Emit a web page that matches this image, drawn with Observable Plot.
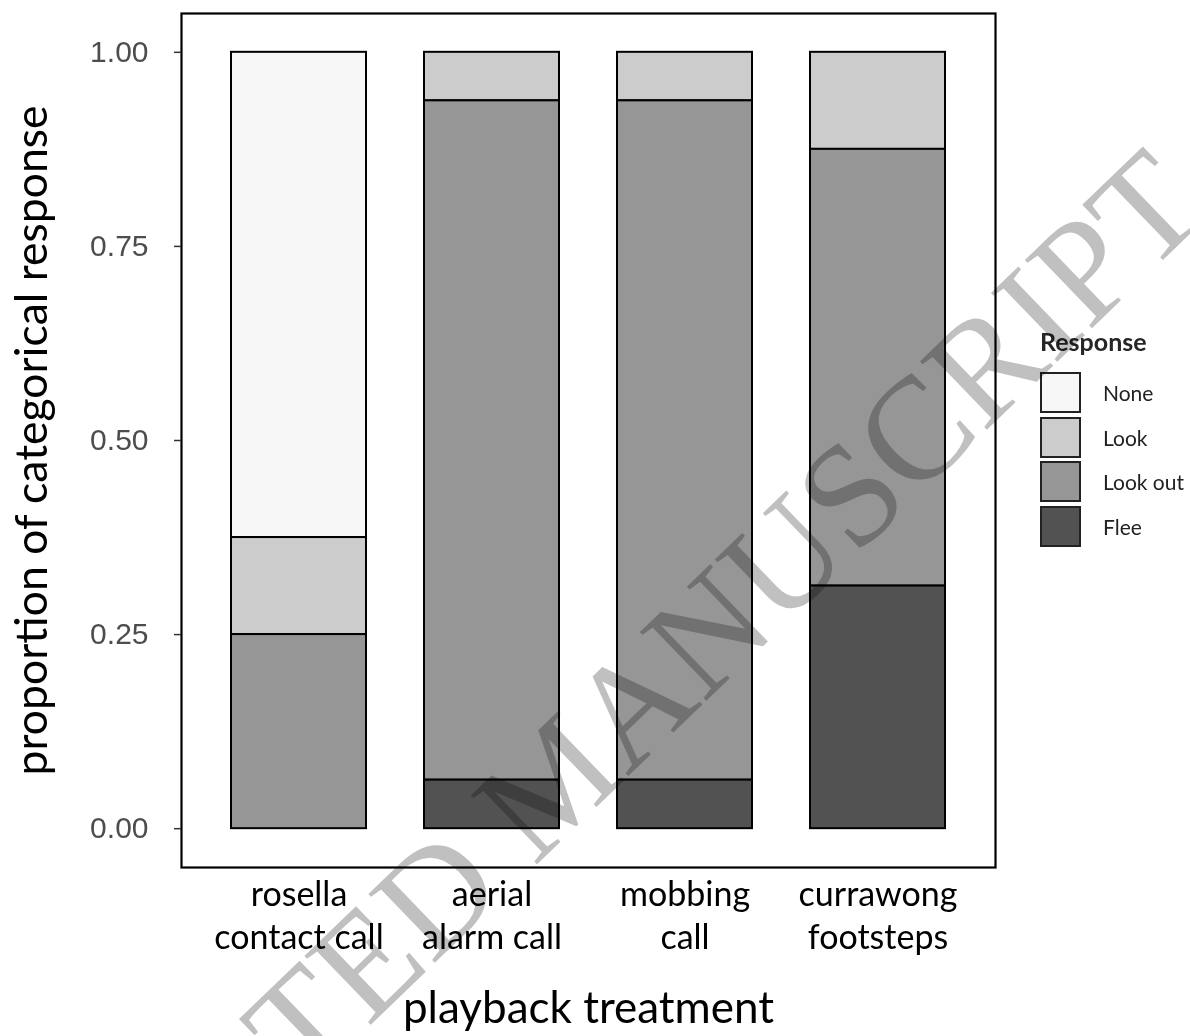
<!DOCTYPE html>
<html>
<head>
<meta charset="utf-8">
<script src="https://cdn.jsdelivr.net/npm/d3@7"></script>
<script src="https://cdn.jsdelivr.net/npm/@observablehq/plot@0.6"></script>
<style>
  html, body { margin: 0; padding: 0; background: white; }
  #wrap { position: relative; width: 1190px; height: 1036px; overflow: hidden; background: white; }
  #chart { position: absolute; left: 0; top: 0; }
  #legend { position: absolute; left: 1040px; top: 326px; font-family: Lato, sans-serif; }
  #legend .title { font-weight: bold; font-size: 25px; line-height: 30px; color: #262626; height: 44px; }
  #legend .row { display: flex; align-items: center; height: 44.7px; }
  #legend .box { width: 37px; height: 37px; border: 2px solid #222; box-sizing: content-box; }
  #legend .lab { margin-left: 22px; font-size: 21px; color: #222; }
  #watermark { position: absolute; left: 0; top: 0; pointer-events: none; mix-blend-mode: multiply; }
</style>
</head>
<body>
<div id="wrap">
  <div id="chart"></div>
  <div id="legend"></div>
  <svg id="watermark" width="1190" height="1036"></svg>
</div>
<script>
const treatments = ["rosella\ncontact call", "aerial\nalarm call", "mobbing\ncall", "currawong\nfootsteps"];
const responses = ["None", "Look", "Look out", "Flee"];
const stackOrder = ["Flee", "Look out", "Look", "None"];
const noneVals = [0.625, 0, 0, 0];
const lookVals = [0.125, 0.0625, 0.0625, 0.125];
const lookOutVals = [0.25, 0.875, 0.875, 0.5625];
const fleeVals = [0, 0.0625, 0.0625, 0.3125];
const fillColors = ["#f7f7f7", "#cccccc", "#969696", "#525252"];
const yTicks = [0, 0.25, 0.5, 0.75, 1];
const yLabel = "proportion of categorical response";
const xLabel = "playback treatment";
const legendTitle = "Response";
const watermarkText = "ACCEPTED MANUSCRIPT";

const series = {"None": noneVals, "Look": lookVals, "Look out": lookOutVals, "Flee": fleeVals};
const rows = [];
treatments.forEach((t, i) => {
  responses.forEach(r => {
    const v = series[r][i];
    if (v > 0) rows.push({treatment: t, response: r, value: v});
  });
});

const chart = Plot.plot({
  width: 1190,
  height: 1036,
  marginLeft: 181,
  marginRight: 195,
  marginTop: 13,
  marginBottom: 169,
  style: {fontFamily: "Lato, sans-serif", background: "white", overflow: "visible"},
  x: {domain: treatments, paddingInner: 0.3, paddingOuter: 0.25, label: null},
  y: {domain: [-0.05, 1.05], label: null},
  color: {domain: responses, range: fillColors},
  marks: [
    Plot.barY(rows, {x: "treatment", y: "value", fill: "response", z: "response", order: stackOrder, stroke: "black", strokeWidth: 2}),
    Plot.frame({stroke: "black", strokeWidth: 2.2}),
    Plot.axisY({ticks: yTicks, tickFormat: d3.format(".2f"), tickSize: 7, tickPadding: 26, fontSize: 30, fontFamily: "Liberation Sans, Arial, sans-serif", fill: "#4d4d4d", stroke: "#333", strokeWidth: 1.5, label: null}),
    Plot.axisX({tickSize: 0, tickPadding: 8, fontSize: 34, lineHeight: 1.265, fill: "black", label: null}),
    Plot.text([yLabel], {frameAnchor: "left", textAnchor: "middle", lineAnchor: "middle", rotate: -90, dx: -149, fontSize: 44.5, fill: "black"}),
    Plot.text([xLabel], {frameAnchor: "bottom", textAnchor: "middle", dy: 155, fontSize: 44, fill: "black"})
  ]
});
document.getElementById("chart").appendChild(chart);

// legend
const legend = document.getElementById("legend");
const title = document.createElement("div");
title.className = "title";
title.textContent = legendTitle;
legend.appendChild(title);
responses.forEach((r, i) => {
  const row = document.createElement("div");
  row.className = "row";
  const box = document.createElement("div");
  box.className = "box";
  box.style.background = fillColors[i];
  const lab = document.createElement("div");
  lab.className = "lab";
  lab.textContent = r;
  row.appendChild(box);
  row.appendChild(lab);
  legend.appendChild(row);
});

// watermark overlay
const wm = d3.select("#watermark");
wm.append("text")
  .attr("transform", "translate(588,815) rotate(-44)")
  .attr("text-anchor", "middle")
  .attr("font-family", "Liberation Serif, Times New Roman, serif")
  .attr("font-size", 146)
  .attr("fill", "#c0c0c0")
  .text(watermarkText);
</script>
</body>
</html>
